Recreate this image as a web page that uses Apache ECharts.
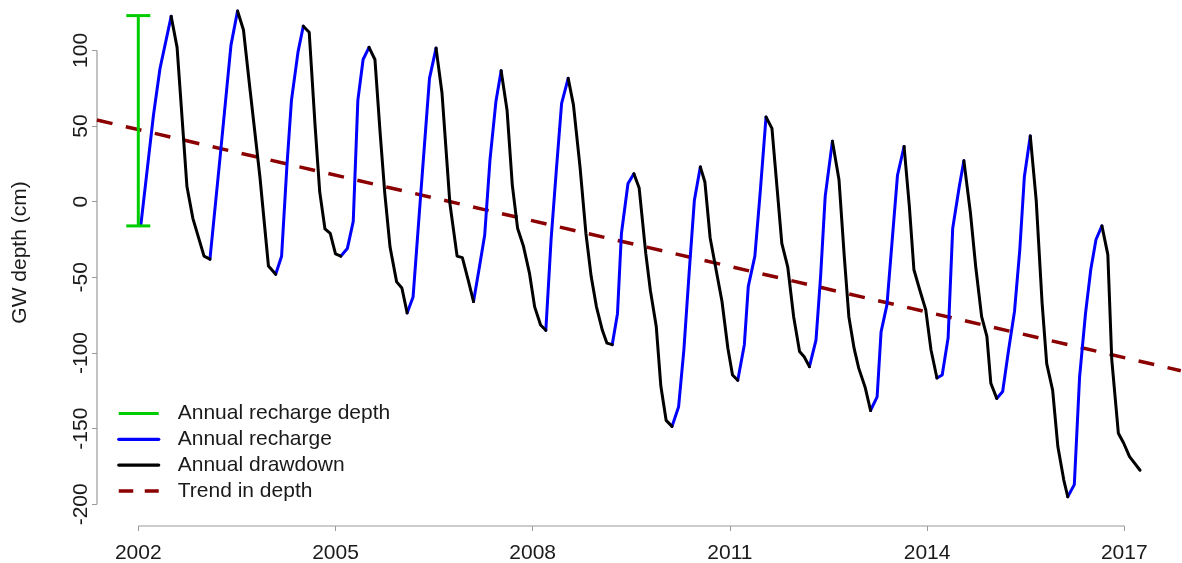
<!DOCTYPE html>
<html>
<head>
<meta charset="utf-8">
<script src="https://cdn.jsdelivr.net/npm/echarts@6/dist/echarts.min.js"></script>
<style>html,body{margin:0;padding:0;background:#fff}#chart{width:1182px;height:563px}</style>
</head>
<body>
<div id="chart"></div>
<script>
// ---- data ----
const dates = [
  2002.04, 2002.23, 2002.33, 2002.50, 2002.59, 2002.74, 2002.83, 2003.00, 2003.09,
  2003.25, 2003.41, 2003.51, 2003.60, 2003.70, 2003.85, 2003.98, 2004.09,
  2004.18, 2004.26, 2004.33, 2004.43, 2004.51, 2004.60, 2004.69, 2004.76, 2004.84, 2004.92, 2005.00, 2005.08,
  2005.18, 2005.27, 2005.34, 2005.42, 2005.51, 2005.60, 2005.68, 2005.75, 2005.83, 2005.93, 2006.01, 2006.09,
  2006.18, 2006.29, 2006.43, 2006.53, 2006.62, 2006.74, 2006.85, 2006.93, 2007.02, 2007.10,
  2007.19, 2007.27, 2007.35, 2007.44, 2007.52, 2007.61, 2007.69, 2007.77, 2007.86, 2007.95, 2008.03, 2008.12, 2008.20,
  2008.28, 2008.36, 2008.44, 2008.54, 2008.62, 2008.72, 2008.81, 2008.89, 2008.97, 2009.06, 2009.13, 2009.21,
  2009.29, 2009.35, 2009.45, 2009.54, 2009.62, 2009.72, 2009.79, 2009.88, 2009.95, 2010.03, 2010.12,
  2010.22, 2010.30, 2010.38, 2010.46, 2010.55, 2010.62, 2010.70, 2010.88, 2010.97, 2011.04, 2011.12,
  2011.22, 2011.28, 2011.38, 2011.46, 2011.55, 2011.64, 2011.79, 2011.88, 2011.97, 2012.06, 2012.13, 2012.21,
  2012.31, 2012.38, 2012.45, 2012.56, 2012.66, 2012.74, 2012.81, 2012.89, 2012.96, 2013.06, 2013.14,
  2013.24, 2013.30, 2013.39, 2013.47, 2013.55, 2013.65, 2013.73, 2013.80, 2013.89, 2013.98, 2014.06, 2014.15,
  2014.23, 2014.32, 2014.39, 2014.49, 2014.56, 2014.66, 2014.74, 2014.83, 2014.91, 2014.97, 2015.06,
  2015.15, 2015.24, 2015.33, 2015.41, 2015.48, 2015.57, 2015.66, 2015.75, 2015.82, 2015.91, 2015.99, 2016.08, 2016.14,
  2016.24, 2016.32, 2016.41, 2016.49, 2016.57, 2016.66, 2016.75, 2016.81, 2016.91, 2016.99, 2017.08, 2017.24
];
const depths = [
  -15, 57, 88, 122.5, 102, 10, -11, -36, -38,
  32, 103.5, 126, 113.5, 74, 16.5, -42.5, -48,
  -36, 23, 67, 99, 116, 112, 50, 6.5, -18, -21, -34.5, -36,
  -31, -13, 67, 94, 102, 94, 45, 5.5, -30, -53, -57, -73.5,
  -63, 1, 81.5, 101.5, 72, -1, -36, -37, -52, -66,
  -43, -22, 27.5, 66, 86.5, 60.5, 11, -17.5, -29.5, -47, -69.5, -81.5, -85,
  -25, 21, 65, 81.5, 64, 23, -21, -49.5, -69.5, -85, -93.5, -94.5,
  -74, -21, 12, 18.5, 9, -34, -58.5, -82.5, -122, -144.5, -148.5,
  -135.5, -98, -47, 1, 23, 13, -24, -66, -97, -114.5, -118,
  -94.5, -56, -36, 5.5, 56, 48.5, -27.5, -43, -76, -99, -102.5, -109,
  -91.5, -49.5, 3.5, 40, 14.5, -36, -76, -97, -110, -123, -138,
  -129, -86, -68, -25, 17.5, 36.5, -3, -45, -58.5, -71.5, -98, -116.5,
  -114.5, -90, -17.5, 10, 27, -7.5, -43, -76, -89, -120, -130,
  -125.5, -98, -72.5, -32, 16.5, 43.5, 1, -67, -107, -124.5, -162, -184, -195,
  -187, -116, -74, -45, -25, -16, -35, -104.5, -153, -159.5, -168.5, -177.5
];
const xTickLabels = [2002, 2005, 2008, 2011, 2014, 2017];
const yTickLabels = [-200, -150, -100, -50, 0, 50, 100];
const rechargeDepthYears = [2002.0, 2002.0];
const rechargeDepthValues = [-16, 123];
const trendYears = [2001.37, 2017.86];
const trendDepths = [54, -111.7];
const seriesNames = ['Annual recharge depth', 'Annual recharge', 'Annual drawdown', 'Trend in depth'];

// ---- plot region (matches R's extended data range) ----
const X_MIN = 2001.3717, X_MAX = 2017.863;
const Y_MIN = -214.34, Y_MAX = 133.31;

function limbs(rising) {
  const out = [];
  let last = -1;
  for (let i = 0; i < dates.length - 1; i++) {
    if ((depths[i + 1] > depths[i]) !== rising) continue;
    if (last !== i) {
      if (out.length) out.push([dates[i], null]);
      out.push([dates[i], depths[i]]);
    }
    out.push([dates[i + 1], depths[i + 1]]);
    last = i + 1;
  }
  return out;
}

const FONT = '"Liberation Sans", Arial, sans-serif';
const AXIS_GREY = '#9a9a9a';
const TEXT = '#1a1a1a';

const chart = echarts.init(document.getElementById('chart'), null, {renderer: 'canvas'});
chart.setOption({
  animation: false,
  backgroundColor: '#ffffff',
  grid: {left: 97, right: 1, top: 0, bottom: 37, outerBoundsMode: 'none', containLabel: false},
  xAxis: {
    type: 'value', min: X_MIN, max: X_MAX, position: 'bottom',
    axisLine: {show: false, onZero: false},
    splitLine: {show: false},
    axisTick: {show: true, customValues: xTickLabels, length: 5, lineStyle: {color: AXIS_GREY, width: 1}},
    axisLabel: {show: true, customValues: xTickLabels, fontSize: 21, fontFamily: FONT, color: TEXT, margin: 17,
      formatter: v => String(v)}
  },
  yAxis: {
    type: 'value', min: Y_MIN, max: Y_MAX, position: 'left',
    axisLine: {show: false, onZero: false},
    splitLine: {show: false},
    axisTick: {show: true, customValues: yTickLabels, length: 5, lineStyle: {color: AXIS_GREY, width: 1}},
    axisLabel: {show: true, customValues: yTickLabels, rotate: 90, fontSize: 21, fontFamily: FONT, color: TEXT, margin: 5,
      formatter: v => String(v)}
  },
  graphic: [{
    type: 'text', x: 20.5, y: 252.5, rotation: Math.PI / 2,
    style: {text: 'GW depth (cm)', fontSize: 21, fontFamily: FONT, fill: TEXT, align: 'center', verticalAlign: 'middle'}
  }],
  legend: {
    data: [
      {name: seriesNames[0]},
      {name: seriesNames[1]},
      {name: seriesNames[2]},
      {name: seriesNames[3], lineStyle: {type: [14.5, 11.5], width: 3.5}}
    ],
    orient: 'vertical', left: 117, top: 403, padding: 0,
    itemWidth: 40, itemHeight: 22, itemGap: 4.8,
    itemStyle: {opacity: 0},
    lineStyle: {width: 3.2},
    selectedMode: false,
    textStyle: {fontSize: 21, fontFamily: FONT, color: TEXT, padding: [0, 0, 0, 14]}
  },
  series: [
    {
      name: 'axisLineY', type: 'line', silent: true, symbol: 'none', clip: false, z: 1,
      data: [[X_MIN, yTickLabels[0]], [X_MIN, yTickLabels[yTickLabels.length - 1]]],
      lineStyle: {color: AXIS_GREY, width: 1.2}
    },
    {
      name: 'axisLineX', type: 'line', silent: true, symbol: 'none', clip: false, z: 1,
      data: [[xTickLabels[0], Y_MIN], [xTickLabels[xTickLabels.length - 1], Y_MIN]],
      lineStyle: {color: AXIS_GREY, width: 1.2}
    },
    {
      name: seriesNames[3], type: 'line', symbol: 'none', z: 2,
      data: trendYears.map((x, i) => [x, trendDepths[i]]),
      lineStyle: {color: '#8b0000', width: 3.5, type: [16, 13.7], cap: 'butt'},
      itemStyle: {color: '#8b0000'}
    },
    {
      name: seriesNames[1], type: 'line', symbol: 'none', z: 3, connectNulls: false,
      data: limbs(true),
      lineStyle: {color: '#0000ff', width: 3, cap: 'round', join: 'round'},
      itemStyle: {color: '#0000ff'}
    },
    {
      name: seriesNames[2], type: 'line', symbol: 'none', z: 3, connectNulls: false,
      data: limbs(false),
      lineStyle: {color: '#000000', width: 3, cap: 'round', join: 'round'},
      itemStyle: {color: '#000000'}
    },
    {
      name: seriesNames[0], type: 'line', z: 4,
      symbol: 'rect', symbolSize: [24, 3], showSymbol: true,
      data: rechargeDepthYears.map((x, i) => [x, rechargeDepthValues[i]]),
      lineStyle: {color: '#00cd00', width: 3},
      itemStyle: {color: '#00cd00'}
    }
  ]
});
</script>
</body>
</html>
